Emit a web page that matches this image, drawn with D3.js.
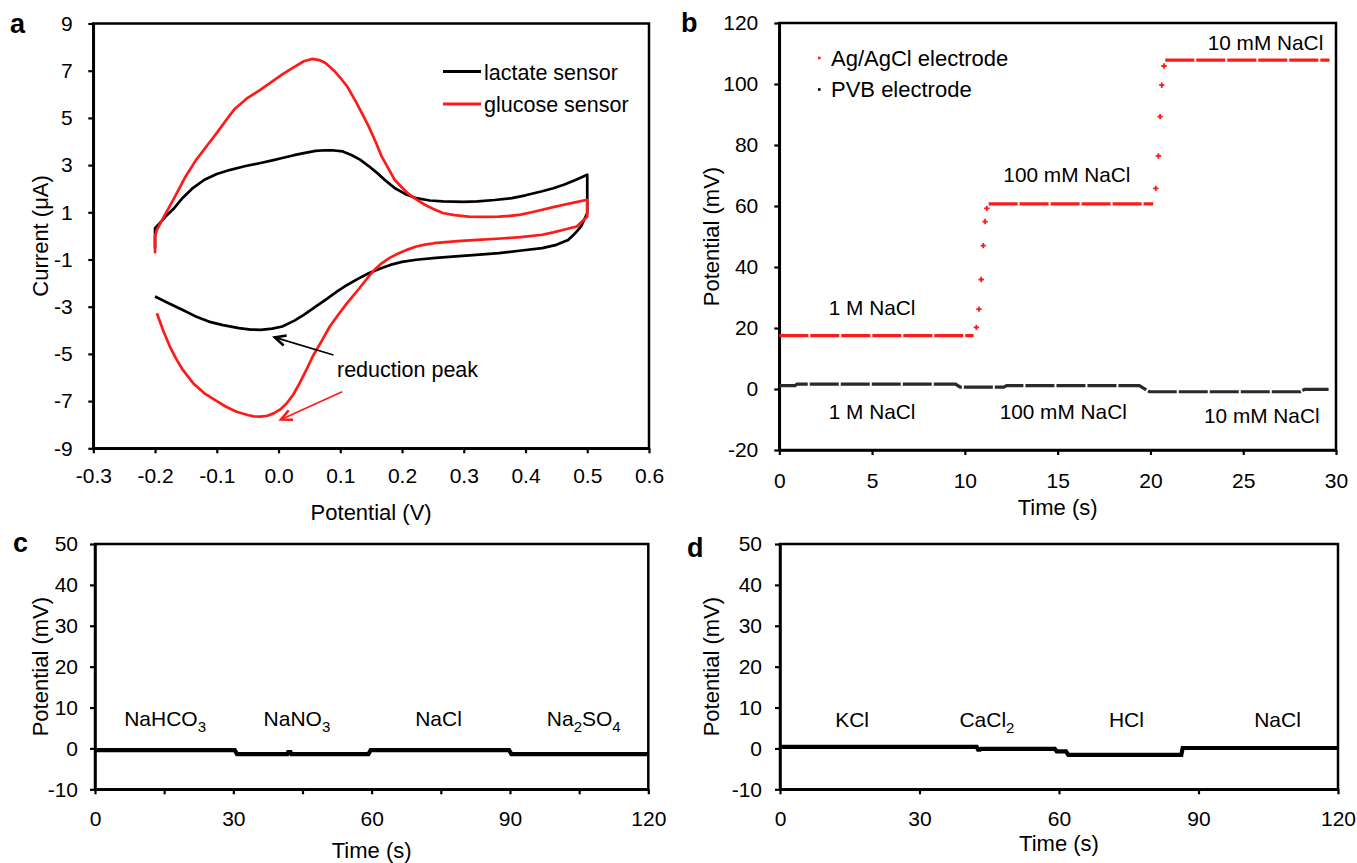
<!DOCTYPE html>
<html><head><meta charset="utf-8">
<script src="https://cdn.jsdelivr.net/npm/d3@7"></script>
<style>
body{margin:0;background:#fff}
svg{display:block}
text{font-family:"Liberation Sans",Arial,Helvetica,sans-serif;fill:#000}
</style>
</head><body>
<svg id="chart" width="1357" height="863"></svg>
<script>
// ---------------- DATA ----------------
// Panel a: cyclic voltammetry
const aPotentialTicks = [-0.3,-0.2,-0.1,0.0,0.1,0.2,0.3,0.4,0.5,0.6];
const aCurrentTicks = [-9,-7,-5,-3,-1,1,3,5,7,9];
const lactateCV = [[-0.2,-0.52],[-0.2,0.33],[-0.192,0.55],[-0.183,0.82],[-0.17,1.15],[-0.155,1.62],[-0.14,2.0],[-0.12,2.38],[-0.1,2.62],[-0.078,2.80],[-0.055,2.95],[-0.029,3.09],[-0.01,3.2],[0.006,3.30],[0.025,3.42],[0.041,3.51],[0.06,3.6],[0.076,3.63],[0.09,3.62],[0.104,3.58],[0.118,3.43],[0.132,3.23],[0.146,2.96],[0.16,2.66],[0.174,2.33],[0.188,2.03],[0.205,1.78],[0.223,1.60],[0.245,1.5],[0.266,1.46],[0.3,1.44],[0.322,1.46],[0.35,1.52],[0.378,1.60],[0.4,1.72],[0.427,1.89],[0.445,2.02],[0.462,2.17],[0.48,2.36],[0.5,2.59],[0.5,0.97],[0.49,0.40],[0.48,0.1],[0.469,-0.17],[0.45,-0.38],[0.427,-0.52],[0.39,-0.63],[0.357,-0.73],[0.32,-0.8],[0.287,-0.87],[0.255,-0.93],[0.223,-1.01],[0.2,-1.1],[0.181,-1.23],[0.165,-1.38],[0.146,-1.58],[0.13,-1.8],[0.111,-2.08],[0.095,-2.35],[0.076,-2.71],[0.06,-3.0],[0.041,-3.35],[0.025,-3.6],[0.006,-3.84],[-0.01,-3.93],[-0.029,-3.98],[-0.045,-3.97],[-0.064,-3.91],[-0.09,-3.78],[-0.113,-3.63],[-0.135,-3.4],[-0.155,-3.14],[-0.178,-2.85],[-0.2,-2.57]];
const glucoseCV = [[-0.2,-0.73],[-0.2,0.0],[-0.197,0.26],[-0.185,0.85],[-0.169,1.6],[-0.152,2.45],[-0.134,3.2],[-0.115,3.85],[-0.099,4.4],[-0.085,4.9],[-0.071,5.38],[-0.05,5.85],[-0.029,6.2],[-0.01,6.55],[0.006,6.84],[0.025,7.15],[0.041,7.40],[0.055,7.5],[0.066,7.45],[0.076,7.33],[0.09,7.0],[0.1,6.7],[0.111,6.34],[0.125,5.7],[0.135,5.2],[0.146,4.64],[0.157,4.0],[0.167,3.37],[0.178,2.85],[0.188,2.38],[0.2,2.05],[0.209,1.81],[0.223,1.55],[0.237,1.32],[0.25,1.15],[0.266,0.97],[0.285,0.88],[0.308,0.82],[0.33,0.81],[0.357,0.82],[0.375,0.85],[0.392,0.90],[0.41,1.0],[0.427,1.11],[0.445,1.22],[0.462,1.32],[0.48,1.42],[0.5,1.53],[0.5,0.82],[0.483,0.40],[0.462,0.26],[0.445,0.15],[0.427,0.05],[0.392,-0.05],[0.36,-0.11],[0.322,-0.17],[0.29,-0.22],[0.252,-0.31],[0.237,-0.37],[0.223,-0.45],[0.21,-0.57],[0.195,-0.73],[0.18,-0.93],[0.167,-1.16],[0.156,-1.42],[0.146,-1.72],[0.13,-2.25],[0.111,-2.85],[0.097,-3.33],[0.083,-3.84],[0.07,-4.45],[0.055,-5.12],[0.045,-5.68],[0.034,-6.25],[0.024,-6.72],[0.013,-7.10],[0.003,-7.35],[-0.008,-7.52],[-0.018,-7.62],[-0.029,-7.66],[-0.04,-7.65],[-0.05,-7.59],[-0.068,-7.45],[-0.085,-7.24],[-0.1,-7.0],[-0.12,-6.67],[-0.138,-6.25],[-0.155,-5.68],[-0.166,-5.2],[-0.176,-4.69],[-0.187,-4.0],[-0.197,-3.28]];
const aSeriesNames = ["lactate sensor","glucose sensor"];
const arrowLactate = [[0.089,-5.05],[-0.006,-4.3]];
const arrowGlucose = [[0.103,-6.6],[0.004,-7.78]];
const aAnnotation = "reduction peak";

// Panel b: potential vs time, NaCl steps
const bTimeTicks = [0,5,10,15,20,25,30];
const bPotentialTicks = [-20,0,20,40,60,80,100,120];
const agPlateaus = [[0,10.47,17.5],[11.28,20.15,60.7],[20.8,29.65,107.8]];
const agTransition = [[10.62,20.2],[10.76,26.2],[10.88,35.9],[10.99,47.0],[11.09,54.9],[11.18,59.2],[20.29,65.8],[20.43,76.4],[20.52,89.3],[20.61,99.6],[20.73,105.9]];
const pvbSteps = [[0,0.85,1.1],[0.95,9.5,1.6],[9.75,12.1,0.6],[12.25,19.4,1.1],[19.95,28.1,-0.9],[28.3,29.6,-0.1]];
const bSeriesNames = ["Ag/AgCl electrode","PVB electrode"];
const bUpperLabels = [["1 M NaCl",5],["100 mM NaCl",15.5],["10 mM NaCl",26.2]];
const bLowerLabels = [["1 M NaCl",5],["100 mM NaCl",15.3],["10 mM NaCl",26]];

// Panels c, d: interference tests
const cdTimeTicks = [0,15,30,45,60,75,90,105,120];
const dTimeTicks = [0,30,60,90,120];
const cdPotentialTicks = [-10,0,10,20,30,40,50];
const cSteps = [[0,30.3,-0.4],[30.8,41.7,-1.4],[41.9,42.4,-0.9],[42.6,59.3,-1.4],[59.8,89.8,-0.4],[90.3,120,-1.4]];
const dSteps = [[0,42.3,0.4],[42.6,43.0,-0.3],[43.2,59.1,-0.1],[59.5,61.5,-0.7],[62.0,86.3,-1.6],[86.6,120,0.1]];
const cLabels = [[["NaHCO",""],["3","sub"]],[["NaNO",""],["3","sub"]],[["NaCl",""]],[["Na",""],["2","sub"],["SO",""],["4","sub"]]];
const cLabelTimes = [15.2, 43.8, 74.5, 106];
const dLabels = [[["KCl",""]],[["CaCl",""],["2","sub"]],[["HCl",""]],[["NaCl",""]]];
const dLabelTimes = [15.5, 44.5, 74.5, 107];

// ---------------- DRAW ----------------
const svg = d3.select("#chart");
svg.append("rect").attr("width",1357).attr("height",863).attr("fill","#fff");
const FONT = '"Liberation Sans",Arial,Helvetica,sans-serif';
const RED = "#ff1a1a";

function panel(o){
  const g = svg.append("g");
  const x = d3.scaleLinear().domain(o.xd).range([o.x0,o.x1]);
  const y = d3.scaleLinear().domain(o.yd).range([o.y1,o.y0]);
  const xa = g.append("g").attr("transform",`translate(0,${o.y1})`)
    .call(d3.axisBottom(x).tickValues(o.xt).tickSize(5).tickSizeOuter(0).tickPadding(o.xpad).tickFormat(o.xf));
  const ya = g.append("g").attr("transform",`translate(${o.x0},0)`)
    .call(d3.axisLeft(y).tickValues(o.yt).tickSize(5).tickSizeOuter(0).tickPadding(o.ypad).tickFormat(o.yf));
  [xa,ya].forEach(a=>{
    a.attr("font-size",21).attr("font-family",FONT);
    a.select(".domain").attr("stroke","#000").attr("stroke-width",2.5);
    a.selectAll(".tick line").attr("stroke","#000").attr("stroke-width",2.2);
    a.selectAll(".tick text").attr("fill","#000");
  });
  g.append("rect").attr("x",o.x0).attr("y",o.y0).attr("width",o.x1-o.x0).attr("height",o.y1-o.y0)
    .attr("fill","none").attr("stroke","#000").attr("stroke-width",2.5);
  g.append("text").attr("x",(o.x0+o.x1)/2).attr("y",o.xty).attr("text-anchor","middle")
    .attr("font-size",22).text(o.xtitle);
  g.append("text").attr("transform",`translate(${o.ytx},${(o.y0+o.y1)/2}) rotate(-90)`)
    .attr("text-anchor","middle").attr("dy","0.35em").attr("font-size",22).text(o.ytitle);
  g.append("text").attr("x",o.lx).attr("y",o.ly).attr("font-size",27).attr("font-weight","bold").text(o.letter);
  return {g,x,y};
}

function arrow(g, x, y, pts, color, w){
  const [x1,y1] = [x(pts[0][0]), y(pts[0][1])];
  const [x2,y2] = [x(pts[1][0]), y(pts[1][1])];
  const ang = Math.atan2(y2-y1, x2-x1);
  const L = 12, sp = 0.45;
  g.append("line").attr("x1",x1).attr("y1",y1).attr("x2",x2).attr("y2",y2).attr("stroke",color).attr("stroke-width",w);
  const p = [[x2 - L*Math.cos(ang-sp), y2 - L*Math.sin(ang-sp)],[x2,y2],[x2 - L*Math.cos(ang+sp), y2 - L*Math.sin(ang+sp)]];
  g.append("path").attr("d", d3.line()(p)).attr("fill","none").attr("stroke",color).attr("stroke-width",w+1).attr("stroke-linejoin","miter");
}

// ---- Panel a ----
{
  const P = panel({xd:[-0.3,0.6], yd:[-9,9], x0:93.3, x1:649, y0:23.5, y1:448.3,
    xt:aPotentialTicks, yt:aCurrentTicks, xf:d=>d.toFixed(1), yf:d=>String(d), xpad:15, ypad:15.5,
    xtitle:"Potential (V)", xty:520, ytitle:"Current (μA)", ytx:40, letter:"a", lx:10, ly:33});
  const line = d3.line().x(d=>P.x(d[0])).y(d=>P.y(d[1]));
  P.g.append("path").attr("d",line(lactateCV)).attr("fill","none").attr("stroke","#000").attr("stroke-width",2.7).attr("stroke-linejoin","round");
  P.g.append("path").attr("d",line(glucoseCV)).attr("fill","none").attr("stroke",RED).attr("stroke-width",2.7).attr("stroke-linejoin","round");
  const colors = ["#000", RED];
  aSeriesNames.forEach((n,i)=>{
    const yy = 71.5 + i*32.5;
    P.g.append("line").attr("x1",443).attr("x2",481).attr("y1",yy).attr("y2",yy).attr("stroke",colors[i]).attr("stroke-width",2.8);
    P.g.append("text").attr("x",484).attr("y",yy+8).attr("font-size",21.5).text(n);
  });
  arrow(P.g, P.x, P.y, arrowLactate, "#000", 1.6);
  arrow(P.g, P.x, P.y, arrowGlucose, RED, 1.6);
  P.g.append("text").attr("x",337).attr("y",377).attr("font-size",21.5).text(aAnnotation);
}

// ---- Panel b ----
{
  const P = panel({xd:[0,30], yd:[-20,120], x0:779.3, x1:1336, y0:23, y1:450,
    xt:bTimeTicks, yt:bPotentialTicks, xf:d=>String(d), yf:d=>String(d), xpad:18, ypad:16,
    xtitle:"Time (s)", xty:515, ytitle:"Potential (mV)", ytx:711, letter:"b", lx:681, ly:32});
  const pv = [];
  pvbSteps.forEach(s=>{pv.push([s[0],s[2]]); pv.push([s[1],s[2]]);});
  P.g.append("path").attr("d", d3.line().x(d=>P.x(d[0])).y(d=>P.y(d[1]))(pv))
    .attr("fill","none").attr("stroke","#2a2a2a").attr("stroke-width",3.2).attr("stroke-dasharray","29,2");
  agPlateaus.forEach(s=>{
    P.g.append("line").attr("x1",P.x(s[0])).attr("x2",P.x(s[1])).attr("y1",P.y(s[2])).attr("y2",P.y(s[2]))
      .attr("stroke",RED).attr("stroke-width",3.2).attr("stroke-dasharray","29,2");
  });
  const sym = d3.symbol().type(d3.symbolCross).size(16);
  P.g.selectAll(".agpt").data(agTransition).join("path").attr("class","agpt")
    .attr("transform",d=>`translate(${P.x(d[0])},${P.y(d[1])})`).attr("d",sym).attr("fill",RED);
  const lc = [RED,"#000"];
  bSeriesNames.forEach((n,i)=>{
    const yy = 58 + i*31.5;
    P.g.append("rect").attr("x",818).attr("y",yy-1.3).attr("width",2.6).attr("height",2.6).attr("fill",lc[i]);
    P.g.append("text").attr("x",831).attr("y",yy+7.5).attr("font-size",22).text(n);
  });
  const ys = [315,182,49.5];
  bUpperLabels.forEach((l,i)=>{
    P.g.append("text").attr("x",P.x(l[1])).attr("y",ys[i]).attr("text-anchor","middle").attr("font-size",20.8).text(l[0]);
  });
  const ys2 = [419,419,423];
  bLowerLabels.forEach((l,i)=>{
    P.g.append("text").attr("x",P.x(l[1])).attr("y",ys2[i]).attr("text-anchor","middle").attr("font-size",20.8).text(l[0]);
  });
}

function stepPanel(o, steps, labels, times){
  const P = panel(o);
  const pts = [];
  steps.forEach(s=>{pts.push([s[0],s[2]]); pts.push([s[1],s[2]]);});
  P.g.append("path").attr("d", d3.line().x(d=>P.x(d[0])).y(d=>P.y(d[1]))(pts))
    .attr("fill","none").attr("stroke","#000").attr("stroke-width",4.2);
  labels.forEach((parts,i)=>{
    const t = P.g.append("text").attr("x",P.x(times[i])).attr("y",o.labY).attr("text-anchor","middle").attr("font-size",21);
    let state = "";
    parts.forEach(p=>{
      const ts = t.append("tspan").text(p[0]);
      if(p[1]==="sub" && state!=="sub"){ ts.attr("dy",6).attr("font-size",15); }
      else if(p[1]!=="sub" && state==="sub"){ ts.attr("dy",-6); }
      else if(p[1]==="sub"){ ts.attr("font-size",15); }
      state = p[1];
    });
  });
  return P;
}

// ---- Panel c ----
stepPanel({xd:[0,120], yd:[-10,50], x0:95, x1:648.3, y0:544, y1:789.3,
  xt:cdTimeTicks, yt:cdPotentialTicks, xf:d=>(d%30===0?String(d):""), yf:d=>String(d), xpad:17, ypad:12,
  xtitle:"Time (s)", xty:858, ytitle:"Potential (mV)", ytx:40, letter:"c", lx:13, ly:552, labY:726},
  cSteps, cLabels, cLabelTimes);

// ---- Panel d ----
stepPanel({xd:[0,120], yd:[-10,50], x0:780, x1:1338, y0:544, y1:789.3,
  xt:dTimeTicks, yt:cdPotentialTicks, xf:d=>String(d), yf:d=>String(d), xpad:17, ypad:13,
  xtitle:"Time (s)", xty:851, ytitle:"Potential (mV)", ytx:711, letter:"d", lx:687, ly:557, labY:727},
  dSteps, dLabels, dLabelTimes);
</script>
</body></html>
